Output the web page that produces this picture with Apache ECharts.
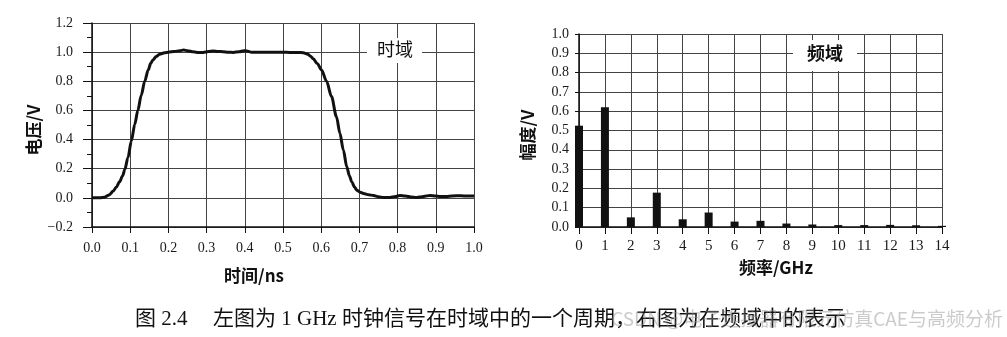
<!DOCTYPE html>
<html>
<head>
<meta charset="utf-8">
<title>1 GHz 时钟信号：时域与频域</title>
<script src="https://cdn.jsdelivr.net/npm/echarts@6/dist/echarts.min.js"></script>
<style>
  html, body { margin: 0; padding: 0; background: #fff; }
  #chart { width: 1007px; height: 337px; }
</style>
</head>
<body>
<div id="chart"></div>
<script>
// Time domain: one period of a 1 GHz clock (time in ns, voltage in V)
const timeNs = [0, 0.02, 0.033, 0.045, 0.055, 0.064, 0.072, 0.08, 0.086, 0.094, 0.103, 0.112, 0.12,
  0.129, 0.138, 0.147, 0.154, 0.16, 0.168, 0.177, 0.19, 0.2, 0.215, 0.23, 0.24, 0.25, 0.265, 0.28,
  0.291, 0.305, 0.317, 0.33, 0.343, 0.357, 0.37, 0.385, 0.398, 0.405, 0.418, 0.431, 0.45, 0.475,
  0.5, 0.518, 0.54, 0.553, 0.565, 0.572, 0.579, 0.59, 0.601, 0.614, 0.627, 0.64, 0.649, 0.658,
  0.667, 0.674, 0.68, 0.687, 0.693, 0.702, 0.711, 0.724, 0.737, 0.75, 0.763, 0.78, 0.795, 0.806,
  0.82, 0.835, 0.85, 0.868, 0.885, 0.9, 0.911, 0.93, 0.955, 0.975, 1.0];
const voltage = [0, 0, 0.005, 0.02, 0.045, 0.075, 0.11, 0.15, 0.195, 0.275, 0.39, 0.505, 0.60,
  0.705, 0.80, 0.877, 0.925, 0.948, 0.97, 0.986, 0.995, 1.0, 1.004, 1.01, 1.014, 1.01, 1.002, 0.998,
  0.998, 1.004, 1.008, 1.005, 1.003, 1.0, 0.998, 1.003, 1.01, 1.008, 1.0, 1.0, 1.0, 1.0,
  1.0, 0.998, 0.998, 0.996, 0.985, 0.972, 0.955, 0.92, 0.877, 0.80, 0.695, 0.557, 0.443, 0.328,
  0.213, 0.15, 0.11, 0.075, 0.053, 0.038, 0.03, 0.022, 0.016, 0.008, 0.002, 0.003, 0.01, 0.016,
  0.012, 0.006, 0.003, 0.01, 0.017, 0.013, 0.009, 0.01, 0.015, 0.013, 0.012];

// Frequency domain: harmonic amplitudes (GHz, V)
const freqGHz = [0, 1, 2, 3, 4, 5, 6, 7, 8, 9, 10, 11, 12, 13, 14];
const amplitude = [0.525, 0.62, 0.05, 0.178, 0.04, 0.075, 0.028, 0.032, 0.018, 0.013, 0.01, 0.01, 0.011, 0.009, 0.006];

// Text
const leftTitle = '时域';
const rightTitle = '频域';
const leftXName = '时间/ns';
const leftYName = '电压/V';
const rightXName = '频率/GHz';
const rightYName = '幅度/V';
const captionNo = '图 2.4';
const captionText = '左图为 1 GHz 时钟信号在时域中的一个周期，右图为在频域中的表示';
const watermark = 'CSDN @电子连接器有限元仿真CAE与高频分析';

const SERIF = '"Liberation Serif", "DejaVu Serif", "Noto Sans CJK SC", serif';
const SANS = '"Noto Sans CJK SC", "Noto Sans", sans-serif';
const GRID_COLOR = '#444';
const AXIS_COLOR = '#111';
const LABEL_COLOR = '#1a1a1a';

const fmt1 = v => (v < 0 ? '\u2212' + Math.abs(v).toFixed(1) : v.toFixed(1));

const chart = echarts.init(document.getElementById('chart'), null, { renderer: 'canvas' });

const option = {
  animation: false,
  backgroundColor: '#fff',
  grid: [
    { left: 92, top: 23, width: 382, height: 204 },
    { left: 579, top: 34, width: 363, height: 193 }
  ],
  xAxis: [
    {
      gridIndex: 0, type: 'value', min: 0, max: 1, interval: 0.1,
      axisLine: { show: true, onZero: false, lineStyle: { color: AXIS_COLOR, width: 1.5 } },
      axisTick: { show: true, length: 6, lineStyle: { color: AXIS_COLOR } },
      axisLabel: { formatter: fmt1, margin: 14, fontFamily: SERIF, fontSize: 14, color: LABEL_COLOR },
      splitLine: { show: true, lineStyle: { color: GRID_COLOR, width: 1 } }
    },
    {
      gridIndex: 1, type: 'value', min: 0, max: 14, interval: 1,
      axisLine: { show: true, onZero: false, lineStyle: { color: AXIS_COLOR, width: 1.5 } },
      axisTick: { show: true, length: 7, lineStyle: { color: AXIS_COLOR } },
      axisLabel: { margin: 12, fontFamily: SERIF, fontSize: 15, color: LABEL_COLOR },
      splitLine: { show: true, lineStyle: { color: GRID_COLOR, width: 1 } }
    }
  ],
  yAxis: [
    {
      gridIndex: 0, type: 'value', min: -0.2, max: 1.2, interval: 0.2,
      axisLine: { show: true, onZero: false, lineStyle: { color: AXIS_COLOR, width: 1.5 } },
      axisTick: { show: true, length: 9, lineStyle: { color: AXIS_COLOR } },
      minorTick: { show: true, splitNumber: 2, length: 5, lineStyle: { color: AXIS_COLOR } },
      axisLabel: { formatter: fmt1, margin: 19, fontFamily: SERIF, fontSize: 14, color: LABEL_COLOR },
      splitLine: { show: true, lineStyle: { color: GRID_COLOR, width: 1 } }
    },
    {
      gridIndex: 1, type: 'value', min: 0, max: 1, interval: 0.1,
      axisLine: { show: true, onZero: false, lineStyle: { color: AXIS_COLOR, width: 1.5 } },
      axisTick: { show: true, length: 4, lineStyle: { color: AXIS_COLOR } },
      axisLabel: { formatter: fmt1, margin: 10, fontFamily: SERIF, fontSize: 14, color: LABEL_COLOR },
      splitLine: { show: true, lineStyle: { color: GRID_COLOR, width: 1 } }
    }
  ],
  series: [
    {
      type: 'line', xAxisIndex: 0, yAxisIndex: 0,
      data: timeNs.map((t, i) => [t, voltage[i]]),
      smooth: 0.3, smoothMonotone: 'x', showSymbol: false, symbol: 'none',
      lineStyle: { color: '#111', width: 3 },
      z: 5
    },
    {
      type: 'bar', xAxisIndex: 1, yAxisIndex: 1,
      data: freqGHz.map((f, i) => [f, amplitude[i]]),
      barWidth: 8, clip: false,
      itemStyle: { color: '#111' },
      z: 5
    }
  ],
  graphic: [
    // label boxes that break the grid behind the panel titles
    { type: 'rect', z: 100, shape: { x: 367, y: 38, width: 55, height: 25 }, style: { fill: '#fff' } },
    { type: 'text', z: 101, x: 395, y: 49,
      style: { text: leftTitle, font: '18px ' + SANS, fill: '#111', align: 'center', verticalAlign: 'middle' } },
    { type: 'rect', z: 100, shape: { x: 793, y: 40, width: 64, height: 31 }, style: { fill: '#fff' } },
    { type: 'text', z: 101, x: 825, y: 53,
      style: { text: rightTitle, font: 'bold 18px ' + SANS, fill: '#111', align: 'center', verticalAlign: 'middle' } },

    // axis names
    { type: 'text', z: 101, x: 254, y: 276,
      style: { text: leftXName, font: 'bold 17px ' + SANS, fill: '#111', align: 'center', verticalAlign: 'middle' } },
    { type: 'text', z: 101, x: 34, y: 130, rotation: Math.PI / 2,
      style: { text: leftYName, font: 'bold 17px ' + SANS, fill: '#111', align: 'center', verticalAlign: 'middle' } },
    { type: 'text', z: 101, x: 776, y: 268,
      style: { text: rightXName, font: 'bold 17px ' + SANS, fill: '#111', align: 'center', verticalAlign: 'middle' } },
    { type: 'text', z: 101, x: 528, y: 135, rotation: Math.PI / 2,
      style: { text: rightYName, font: 'bold 17px ' + SANS, fill: '#111', align: 'center', verticalAlign: 'middle' } },

    // caption
    { type: 'text', z: 101, x: 135, y: 319,
      style: { text: captionNo, font: '21px ' + SERIF, fill: '#111', align: 'left', verticalAlign: 'middle' } },
    { type: 'text', z: 101, x: 213, y: 319,
      style: { text: captionText, font: '21px ' + SERIF, fill: '#111', align: 'left', verticalAlign: 'middle' } },
    { type: 'text', z: 102, x: 1003, y: 319,
      style: { text: watermark, font: '19px ' + SANS, fill: 'rgba(140,140,140,0.45)', align: 'right', verticalAlign: 'middle' } }
  ]
};

chart.setOption(option);
</script>
</body>
</html>
